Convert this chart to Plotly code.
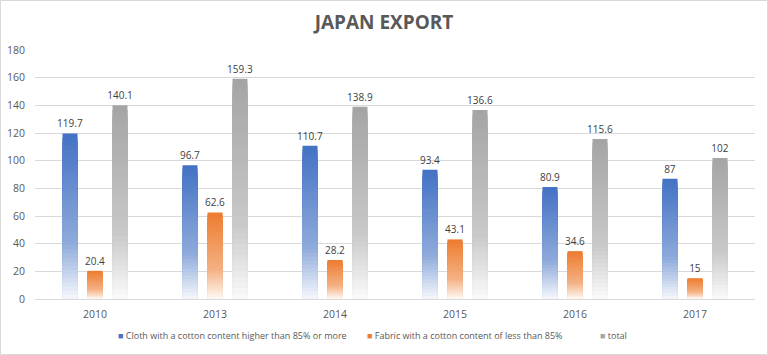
import plotly.graph_objects as go

years = ["2010", "2013", "2014", "2015", "2016", "2017"]
cloth = [119.7, 96.7, 110.7, 93.4, 80.9, 87]
fabric = [20.4, 62.6, 28.2, 43.1, 34.6, 15]
total = [140.1, 159.3, 138.9, 136.6, 115.6, 102]
series_names = [
    "Cloth with a cotton content higher than 85% or more",
    "Fabric with a cotton content of less than 85%",
    "total",
]
series_values = [cloth, fabric, total]
series_colors = ["#4472C4", "#ED7D31", "#A5A5A5"]

FONT = "Open Sans"
TXT = "#595959"


def mix(hexc, w):
    r, g, b = int(hexc[1:3], 16), int(hexc[3:5], 16), int(hexc[5:7], 16)
    r = round(r + (255 - r) * w)
    g = round(g + (255 - g) * w)
    b = round(b + (255 - b) * w)
    return f"rgb({r},{g},{b})"


def white_amount(t):
    # t: 0 at bar top, 1 at bar bottom
    if t <= 0.65:
        return 0.40 * t / 0.65
    return 0.40 + 0.57 * (t - 0.65) / 0.35


N = 40
fig = go.Figure()
for i, (name, vals, col) in enumerate(zip(series_names, series_values, series_colors)):
    fig.add_trace(go.Bar(
        x=years, y=vals, name=name, offsetgroup=str(i),
        marker=dict(color=col, line=dict(width=0)),
        text=[f"{v:g}" for v in vals], textposition="outside",
        textfont=dict(family=FONT, size=10, color="#404040"),
        cliponaxis=False, constraintext="none", hoverinfo="skip", showlegend=False,
    ))
    for k in range(1, N):
        frac = 1 - k / N
        fig.add_trace(go.Bar(
            x=years, y=[v * frac for v in vals], offsetgroup=str(i),
            marker=dict(color=mix(col, white_amount(k / N)), line=dict(width=0)),
            showlegend=False, hoverinfo="skip",
        ))

L, R, T, B = 35, 13, 50, 56
PW, PH = 768 - L - R, 355 - T - B

legend_x_px = [116, 365, 598]
annotations = []
for name, col, px in zip(series_names, series_colors, legend_x_px):
    annotations.append(dict(
        xref="paper", yref="paper", x=(px - L) / PW, y=-(335 - (T + PH)) / PH,
        xanchor="left", yanchor="middle", showarrow=False,
        text=f"<span style='color:{col};font-size:9px'>■</span> {name}",
        font=dict(family=FONT, size=9, color=TXT),
    ))

fig.update_layout(
    width=768, height=355,
    margin=dict(l=L, r=R, t=T, b=B, autoexpand=False),
    paper_bgcolor="white", plot_bgcolor="white",
    barmode="group", bargap=0.375, bargroupgap=0.4,
    title=dict(text="<b>JAPAN EXPORT</b>", x=0.5, xanchor="center", y=1 - 22 / 355, yanchor="middle",
               font=dict(family=FONT, size=19, color=TXT)),
    font=dict(family=FONT, color=TXT, size=11),
    showlegend=False,
    annotations=annotations,
    xaxis=dict(showgrid=False, showline=True, linecolor="#D9D9D9", linewidth=1,
               ticks="", tickfont=dict(family=FONT, size=10.5, color=TXT), ticklabelstandoff=5),
    yaxis=dict(range=[0, 180], dtick=20, showgrid=True, gridcolor="#D9D9D9", gridwidth=1,
               zeroline=False, showline=False, ticks="",
               tickfont=dict(family=FONT, size=10.5, color=TXT), ticklabelstandoff=9),
    shapes=[dict(type="rect", xref="paper", yref="paper",
                 x0=(0.5 - L) / PW, x1=(767.5 - L) / PW,
                 y0=((T + PH) - 354.5) / PH, y1=((T + PH) - 0.5) / PH,
                 line=dict(color="#D9D9D9", width=1), fillcolor="rgba(0,0,0,0)", layer="below")],
)

fig.write_html("out.html", config={"displayModeBar": False},
               post_script="document.body.style.margin='0';")
